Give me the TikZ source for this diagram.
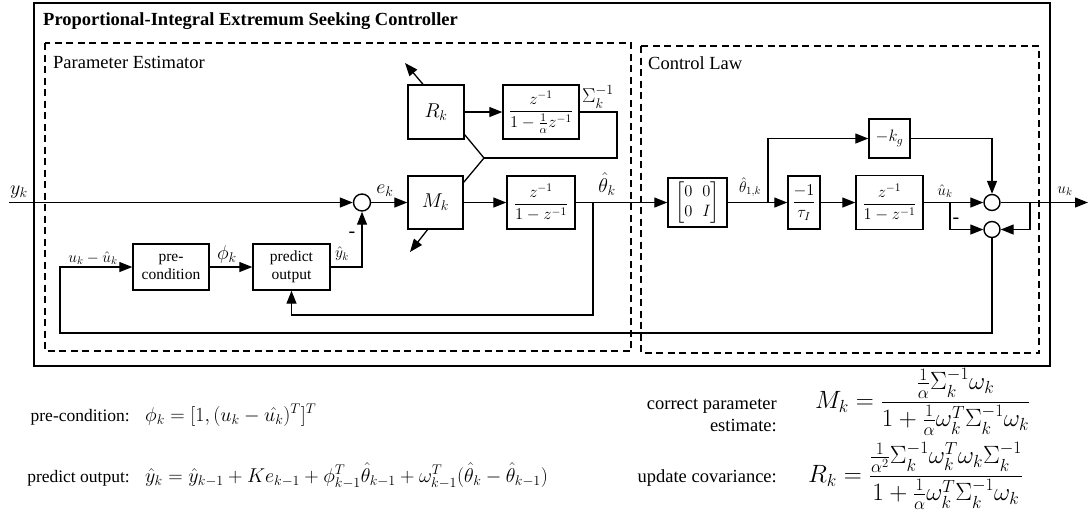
\documentclass[tikz,border=0pt]{standalone}
\usepackage{fix-cm}
\usepackage{amsmath}
\usepackage{fontspec}
\setmainfont{Liberation Serif}
\usetikzlibrary{arrows.meta,calc}
\begin{document}
\begin{tikzpicture}[x=1pt,y=-1pt,
  ln/.style={line width=1.3pt},
  arr/.style={line width=1.3pt,-{Triangle[length=13pt,width=10pt]}},
  blk/.style={draw,line width=1.4pt,inner sep=0pt,align=center},
  sumc/.style={draw,circle,line width=1.4pt,minimum size=16pt,inner sep=0pt},
  dbox/.style={line width=1.2pt,dash pattern=on 7pt off 4.5pt},
  lab/.style={inner sep=0pt,font=\fontsize{20}{22}\selectfont},
  slab/.style={inner sep=0pt,font=\fontsize{15.5}{18}\selectfont},
  txt/.style={inner sep=0pt,font=\fontsize{18.5}{22}\selectfont},
  btxt/.style={font=\fontsize{15.5}{18}\selectfont},
  mtxt/.style={font=\fontsize{16.5}{19.5}\selectfont},
  eq/.style={inner sep=0pt,font=\fontsize{25}{30}\selectfont},
]
\useasboundingbox (0,0) rectangle (1088,512);
% frames
\draw[line width=1.4pt] (34,3) rectangle (1050,366);
\draw[dbox] (45,43) rectangle (631,351);
\draw[dbox] (641,46) rectangle (1039,353);
\node[anchor=west,inner sep=0pt,font=\fontsize{18.5}{20}\selectfont\bfseries] (title) at (43,21) {Proportional-Integral Extremum Seeking Controller};
\node[anchor=west,txt] (pe) at (53,62) {Parameter Estimator};
\node[anchor=west,txt] (cl) at (648,63) {Control Law};

% blocks
\node[blk,minimum width=56pt,minimum height=54pt,font=\fontsize{20}{22}\selectfont] (R) at (436,112) {$R_k$};
\node[blk,minimum width=55pt,minimum height=53pt,font=\fontsize{20}{22}\selectfont] (M) at (435.5,202.5) {$M_k$};
\node[blk,mtxt,minimum width=76pt,minimum height=54pt] (S) at (541,112) {$\dfrac{z^{-1}}{1-\frac{1}{\alpha}z^{-1}}$};
\node[blk,mtxt,minimum width=68pt,minimum height=53pt] (I1) at (541,202.5) {$\dfrac{z^{-1}}{1-z^{-1}}$};
\node[sumc,minimum size=17pt] (s1) at (362,202.5) {};
\node[blk,btxt,minimum width=76pt,minimum height=46pt] (pre) at (171,267) {pre-\\condition};
\node[blk,btxt,minimum width=77pt,minimum height=46pt] (pred) at (291.5,267) {predict\\output};
\node[blk,mtxt,minimum width=59pt,minimum height=49pt] (mat) at (697.5,202.5) {$\begin{bmatrix}0&0\\0&I\end{bmatrix}$};
\node[blk,mtxt,minimum width=32pt,minimum height=53pt] (tau) at (804,202.5) {$\dfrac{-1}{\tau_I}$};
\node[blk,mtxt,minimum width=67pt,minimum height=54pt] (I2) at (889.5,202.5) {$\dfrac{z^{-1}}{1-z^{-1}}$};
\node[blk,mtxt,minimum width=41pt,minimum height=39pt] (kg) at (889.5,138.5) {$-k_g$};
\node[sumc] (sa) at (992,202.5) {};
\node[sumc] (sb) at (992,229.5) {};

% coordinates
\coordinate (yin) at (9,202.5);
\coordinate (b1) at (593,202.5);
\coordinate (fb2) at (593,315);
\coordinate (s1c) at (617,112);
\coordinate (s2c) at (617,158);
\coordinate (J) at (484,158);
\coordinate (ra) at (405,63);
\coordinate (ma) at (410,252);
\coordinate (b2) at (768,202.5);
\coordinate (b3) at (950,202.5);
\coordinate (b4) at (1030,202.5);
\coordinate (out) at (1088,202.5);
\coordinate (fb1) at (60,333);

% connectors
\draw[arr] (yin) -- (s1.west);
\draw[arr] (s1.east) -- (M.west);
\draw[arr] (M.east) -- (I1.west);
\draw[arr] (I1.east) -- (mat.west);
\draw[arr] (b1) -- (fb2) -| (pred.south);
\draw[arr] (R.east) -- (S.west);
\draw[ln] (S.east) -- (s1c) -- (s2c) -- (J);
\draw[ln] (J) -- ($(R.south east)+(0,-5)$);
\draw[ln] (J) -- ($(M.north east)+(0,7)$);
\draw[arr] ($(R.north)+(-13,0)$) -- (ra);
\draw[arr] ($(M.south)+(-8,0)$) -- (ma);
\draw[arr] (pred.east) -| (s1.south);
\draw[arr] (pre.east) -- (pred.west);
\draw[arr] (mat.east) -- (tau.west);
\draw[arr] (b2) |- (kg.west);
\draw[arr] (tau.east) -- (I2.west);
\draw[arr] (kg.east) -| (sa.north);
\draw[arr] (I2.east) -- (sa.west);
\draw[arr] (b3) |- (sb.west);
\draw[arr] (sa.east) -- (out);
\draw[arr] (b4) |- (sb.east);
\draw[arr] (sb.south) |- (fb1) |- (pre.west);

% labels
\node[lab] (lyk) at (19,192) {$y_k$};
\node[lab] (lek) at (385,191) {$e_k$};
\node[lab] (lth) at (607,184) {$\hat\theta_k$};
\node[slab] (lyh) at (342,254) {$\hat y_k$};
\node[lab] (lm1) at (352,235) {-};
\node[lab] (lphi) at (227,254) {$\phi_k$};
\node[slab] (lfb) at (93,258) {$u_k-\hat u_k$};
\node[lab] (lsig) at (598,97) {$\Sigma_k^{-1}$};
\node[slab] (lth1) at (750,187) {$\hat\theta_{1,k}$};
\node[slab] (luh) at (945,191) {$\hat u_k$};
\node[lab] (lm2) at (956,221) {-};
\node[slab] (luk) at (1065,191) {$u_k$};

% equations
\node[txt,anchor=base east,font=\fontsize{17.5}{22}\selectfont] (t1) at (130,421) {pre-condition:};
\node[anchor=base west,inner sep=0pt,font=\fontsize{20}{22}\selectfont] (e1) at (145,421) {$\phi_k = [1,(u_k-\hat{u_k})^T]^T$};
\node[txt,anchor=base east,font=\fontsize{17.5}{22}\selectfont] (t2) at (130,482) {predict output:};
\node[anchor=base west,inner sep=0pt,font=\fontsize{20}{22}\selectfont] (e2) at (145,482) {$\hat y_k = \hat y_{k-1} + Ke_{k-1} + \phi_{k-1}^T\hat\theta_{k-1} + \omega_{k-1}^T(\hat\theta_k - \hat\theta_{k-1})$};
\node[txt,anchor=east,align=right] (t3) at (777,415) {correct parameter\\estimate:};
\node[txt,anchor=east] (t4) at (777,478) {update covariance:};
\node[eq,anchor=west] (e3) at (815,402) {$\displaystyle M_k = \frac{\frac{1}{\alpha}\Sigma_k^{-1}\omega_k}{1+\frac{1}{\alpha}\omega_k^T\Sigma_k^{-1}\omega_k}$};
\node[eq,anchor=west] (e4) at (808,476) {$\displaystyle R_k = \frac{\frac{1}{\alpha^2}\Sigma_k^{-1}\omega_k^T\omega_k\Sigma_k^{-1}}{1+\frac{1}{\alpha}\omega_k^T\Sigma_k^{-1}\omega_k}$};
\end{tikzpicture}
\end{document}
